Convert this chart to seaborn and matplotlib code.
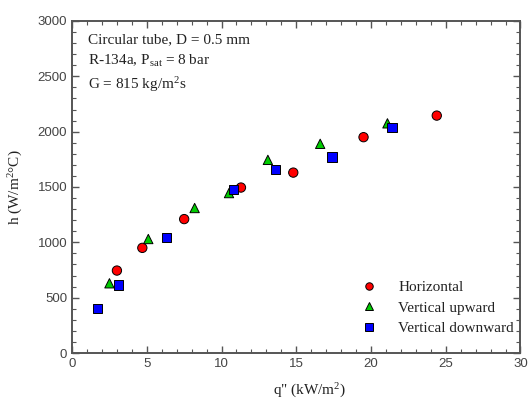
import numpy as np
import pandas as pd
import matplotlib
matplotlib.use("Agg")
import matplotlib.pyplot as plt
import seaborn as sns
from matplotlib.ticker import MultipleLocator

# ── Data ────────────────────────────────────────────────────
q_horizontal = [3.0, 4.7, 7.5, 11.3, 14.8, 19.5, 24.4]
h_horizontal = [745, 950, 1210, 1495, 1630, 1950, 2145]

q_upward = [2.5, 5.1, 8.2, 10.5, 13.1, 16.6, 21.1]
h_upward = [630, 1030, 1310, 1445, 1745, 1890, 2075]

q_downward = [1.7, 3.1, 6.3, 10.8, 13.6, 17.4, 21.4]
h_downward = [400, 615, 1045, 1480, 1655, 1770, 2040]

labels = ["Horizontal", "Vertical upward", "Vertical downward"]

df = pd.DataFrame({
    "q": q_horizontal + q_upward + q_downward,
    "h": h_horizontal + h_upward + h_downward,
    "orientation": [labels[0]] * len(q_horizontal)
                 + [labels[1]] * len(q_upward)
                 + [labels[2]] * len(q_downward),
})

# ── Style ───────────────────────────────────────────────────
sns.set_style("ticks")
plt.rcParams["font.family"] = ["Liberation Sans", "DejaVu Sans"]
plt.rcParams["mathtext.fontset"] = "custom"
plt.rcParams["mathtext.rm"] = "Liberation Serif"
plt.rcParams["mathtext.it"] = "Liberation Serif:italic"
SERIF = ["Liberation Serif", "DejaVu Serif"]
AXIS_COL = "#555555"

palette = {labels[0]: "#ff0000", labels[1]: "#00cc00", labels[2]: "#0000ff"}
markers = {labels[0]: "o", labels[1]: "^", labels[2]: "s"}

fig = plt.figure(figsize=(5.30, 4.03), dpi=100)
ax = fig.add_axes([0.136, 0.124, 0.846, 0.824])

sns.scatterplot(data=df, x="q", y="h", hue="orientation", style="orientation",
                palette=palette, markers=markers, s=45, edgecolor="black",
                linewidth=0.7, ax=ax, zorder=3)

ax.set_xlim(0, 30)
ax.set_ylim(0, 3000)
ax.xaxis.set_major_locator(MultipleLocator(5))
ax.xaxis.set_minor_locator(MultipleLocator(1))
ax.yaxis.set_major_locator(MultipleLocator(500))
ax.yaxis.set_minor_locator(MultipleLocator(100))
ax.tick_params(which="both", direction="in", top=True, right=True,
               color=AXIS_COL, labelcolor="#444444", labelsize=9.5)
ax.tick_params(which="major", length=5, width=1)
ax.tick_params(which="minor", length=3, width=0.8)
for sp in ax.spines.values():
    sp.set_color(AXIS_COL)
    sp.set_linewidth(1.4)

ax.set_xlabel('q" (kW/m$^2$)', family=SERIF, fontsize=11, color="#222222")
ax.xaxis.set_label_coords(0.53, -0.088)
ax.set_ylabel("h (W/m$^2$°C)", family=SERIF, fontsize=11, color="#222222",
              labelpad=9)

ax.text(0.035, 0.962, "Circular tube, D = 0.5 mm", transform=ax.transAxes,
        family=SERIF, fontsize=11, va="top", color="#222222")
ax.text(0.035, 0.905, "R-134a, P$_{\\mathrm{sat}}$ = 8 bar", transform=ax.transAxes,
        family=SERIF, fontsize=11, va="top", color="#222222")
ax.text(0.035, 0.838, "G = 815 kg/m$^2$s", transform=ax.transAxes,
        family=SERIF, fontsize=11, va="top", color="#222222")

leg = ax.legend(loc="lower left", bbox_to_anchor=(0.615, 0.035), frameon=False,
                handletextpad=0.9, labelspacing=0.45, borderaxespad=0,
                prop={"family": SERIF, "size": 11}, markerscale=0.8)
for t in leg.get_texts():
    t.set_color("#222222")

fig.savefig("out.png", dpi=100)
